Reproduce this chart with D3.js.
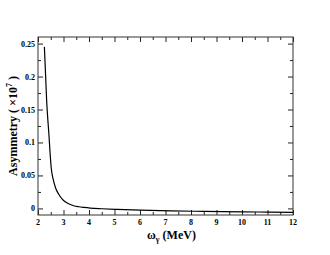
<!DOCTYPE html>
<html>
<head>
<meta charset="utf-8">
<script src="https://cdn.jsdelivr.net/npm/d3@7"></script>
<style>
  body { margin: 0; background: #fff; }
</style>
</head>
<body>
<div id="graphic"></div>
<script>
// photon energy (MeV) and asymmetry (x10^7)
var energy = [2.25, 2.3, 2.34, 2.4, 2.43, 2.47, 2.52, 2.59, 2.69, 2.82, 2.95, 3.05, 3.2, 3.4, 3.6, 3.8, 4.05, 4.5, 5.1, 6, 7.2, 8.5, 10, 11, 12];
var asym = [0.245, 0.2, 0.163, 0.127, 0.111, 0.086, 0.061, 0.045, 0.031, 0.021, 0.014, 0.0105, 0.007, 0.004, 0.0025, 0.0015, 0.0005, -0.0005, -0.0015, -0.0027, -0.0038, -0.0045, -0.0052, -0.0056, -0.006];

var xTicks = [2, 3, 4, 5, 6, 7, 8, 9, 10, 11, 12];
var yTicks = [0, 0.05, 0.1, 0.15, 0.2, 0.25];
var yTickLabels = ["0", "0.05", "0.1", "0.15", "0.2", "0.25"];

var serif = "'Liberation Serif', 'Times New Roman', 'DejaVu Serif', serif";

var width = 330, height = 255;
var margin = {left: 38, right: 37, top: 37, bottom: 40};

var svg = d3.select("#graphic").append("svg")
    .attr("width", width)
    .attr("height", height);

var x = d3.scaleLinear().domain([2, 12]).range([margin.left, width - margin.right]);
var y = d3.scaleLinear().domain([-0.01, 0.26]).range([height - margin.bottom, margin.top]);

var xMinor = d3.range(2.5, 12, 1);
var yMinor = d3.range(0.025, 0.25, 0.05);

// axes with inward ticks on all four sides
svg.append("g").attr("transform", "translate(0," + y.range()[0] + ")")
    .call(d3.axisTop(x).tickValues(xTicks).tickSize(5).tickFormat(""));
svg.append("g").attr("transform", "translate(0," + y.range()[0] + ")")
    .call(d3.axisTop(x).tickValues(xMinor).tickSize(3).tickFormat(""));
svg.append("g").attr("transform", "translate(0," + y.range()[1] + ")")
    .call(d3.axisBottom(x).tickValues(xTicks).tickSize(5).tickFormat(""));
svg.append("g").attr("transform", "translate(0," + y.range()[1] + ")")
    .call(d3.axisBottom(x).tickValues(xMinor).tickSize(3).tickFormat(""));
svg.append("g").attr("transform", "translate(" + x.range()[0] + ",0)")
    .call(d3.axisRight(y).tickValues(yTicks).tickSize(5).tickFormat(""));
svg.append("g").attr("transform", "translate(" + x.range()[0] + ",0)")
    .call(d3.axisRight(y).tickValues(yMinor).tickSize(3).tickFormat(""));
svg.append("g").attr("transform", "translate(" + x.range()[1] + ",0)")
    .call(d3.axisLeft(y).tickValues(yTicks).tickSize(5).tickFormat(""));
svg.append("g").attr("transform", "translate(" + x.range()[1] + ",0)")
    .call(d3.axisLeft(y).tickValues(yMinor).tickSize(3).tickFormat(""));

svg.selectAll(".domain").remove();
svg.selectAll(".tick line").attr("stroke", "#222").attr("stroke-width", 1);

svg.append("rect")
    .attr("x", x.range()[0]).attr("y", y.range()[1])
    .attr("width", x.range()[1] - x.range()[0])
    .attr("height", y.range()[0] - y.range()[1])
    .attr("fill", "none").attr("stroke", "#333").attr("stroke-width", 1);

// tick labels
svg.selectAll(".xlab").data(xTicks).enter().append("text")
    .attr("class", "xlab")
    .attr("x", d => x(d))
    .attr("y", y.range()[0] + 10)
    .attr("text-anchor", "middle")
    .attr("font-family", serif)
    .attr("font-weight", "bold")
    .attr("font-size", 8)
    .text(d => d);

svg.selectAll(".ylab").data(yTicks).enter().append("text")
    .attr("class", "ylab")
    .attr("x", x.range()[0] - 3)
    .attr("y", d => y(d) + 3)
    .attr("text-anchor", "end")
    .attr("font-family", serif)
    .attr("font-weight", "bold")
    .attr("font-size", 8)
    .text((d, i) => yTickLabels[i]);

// curve
var pts = energy.map((e, i) => [e, asym[i]]);
svg.append("path")
    .datum(pts)
    .attr("fill", "none")
    .attr("stroke", "#000")
    .attr("stroke-width", 1.2)
    .attr("d", d3.line().x(d => x(d[0])).y(d => y(d[1])).curve(d3.curveMonotoneX));

// axis titles
var xt = svg.append("text")
    .attr("x", (x.range()[0] + x.range()[1]) / 2 + 6)
    .attr("y", 239)
    .attr("text-anchor", "middle")
    .attr("font-family", serif)
    .attr("font-weight", "bold")
    .attr("font-size", 12);
xt.append("tspan").text("ω");
xt.append("tspan").attr("dy", 3).attr("font-size", 8).text("γ");
xt.append("tspan").attr("dy", -3).text(" (MeV)");

var yt = svg.append("text")
    .attr("transform", "translate(17," + ((y.range()[0] + y.range()[1]) / 2) + ") rotate(-90)")
    .attr("text-anchor", "middle")
    .attr("font-family", serif)
    .attr("font-weight", "bold")
    .attr("font-size", 12);
yt.append("tspan").text("Asymmetry ( ×10");
yt.append("tspan").attr("dy", -5).attr("font-size", 8).text("7");
yt.append("tspan").attr("dy", 5).text(" )");
</script>
</body>
</html>
